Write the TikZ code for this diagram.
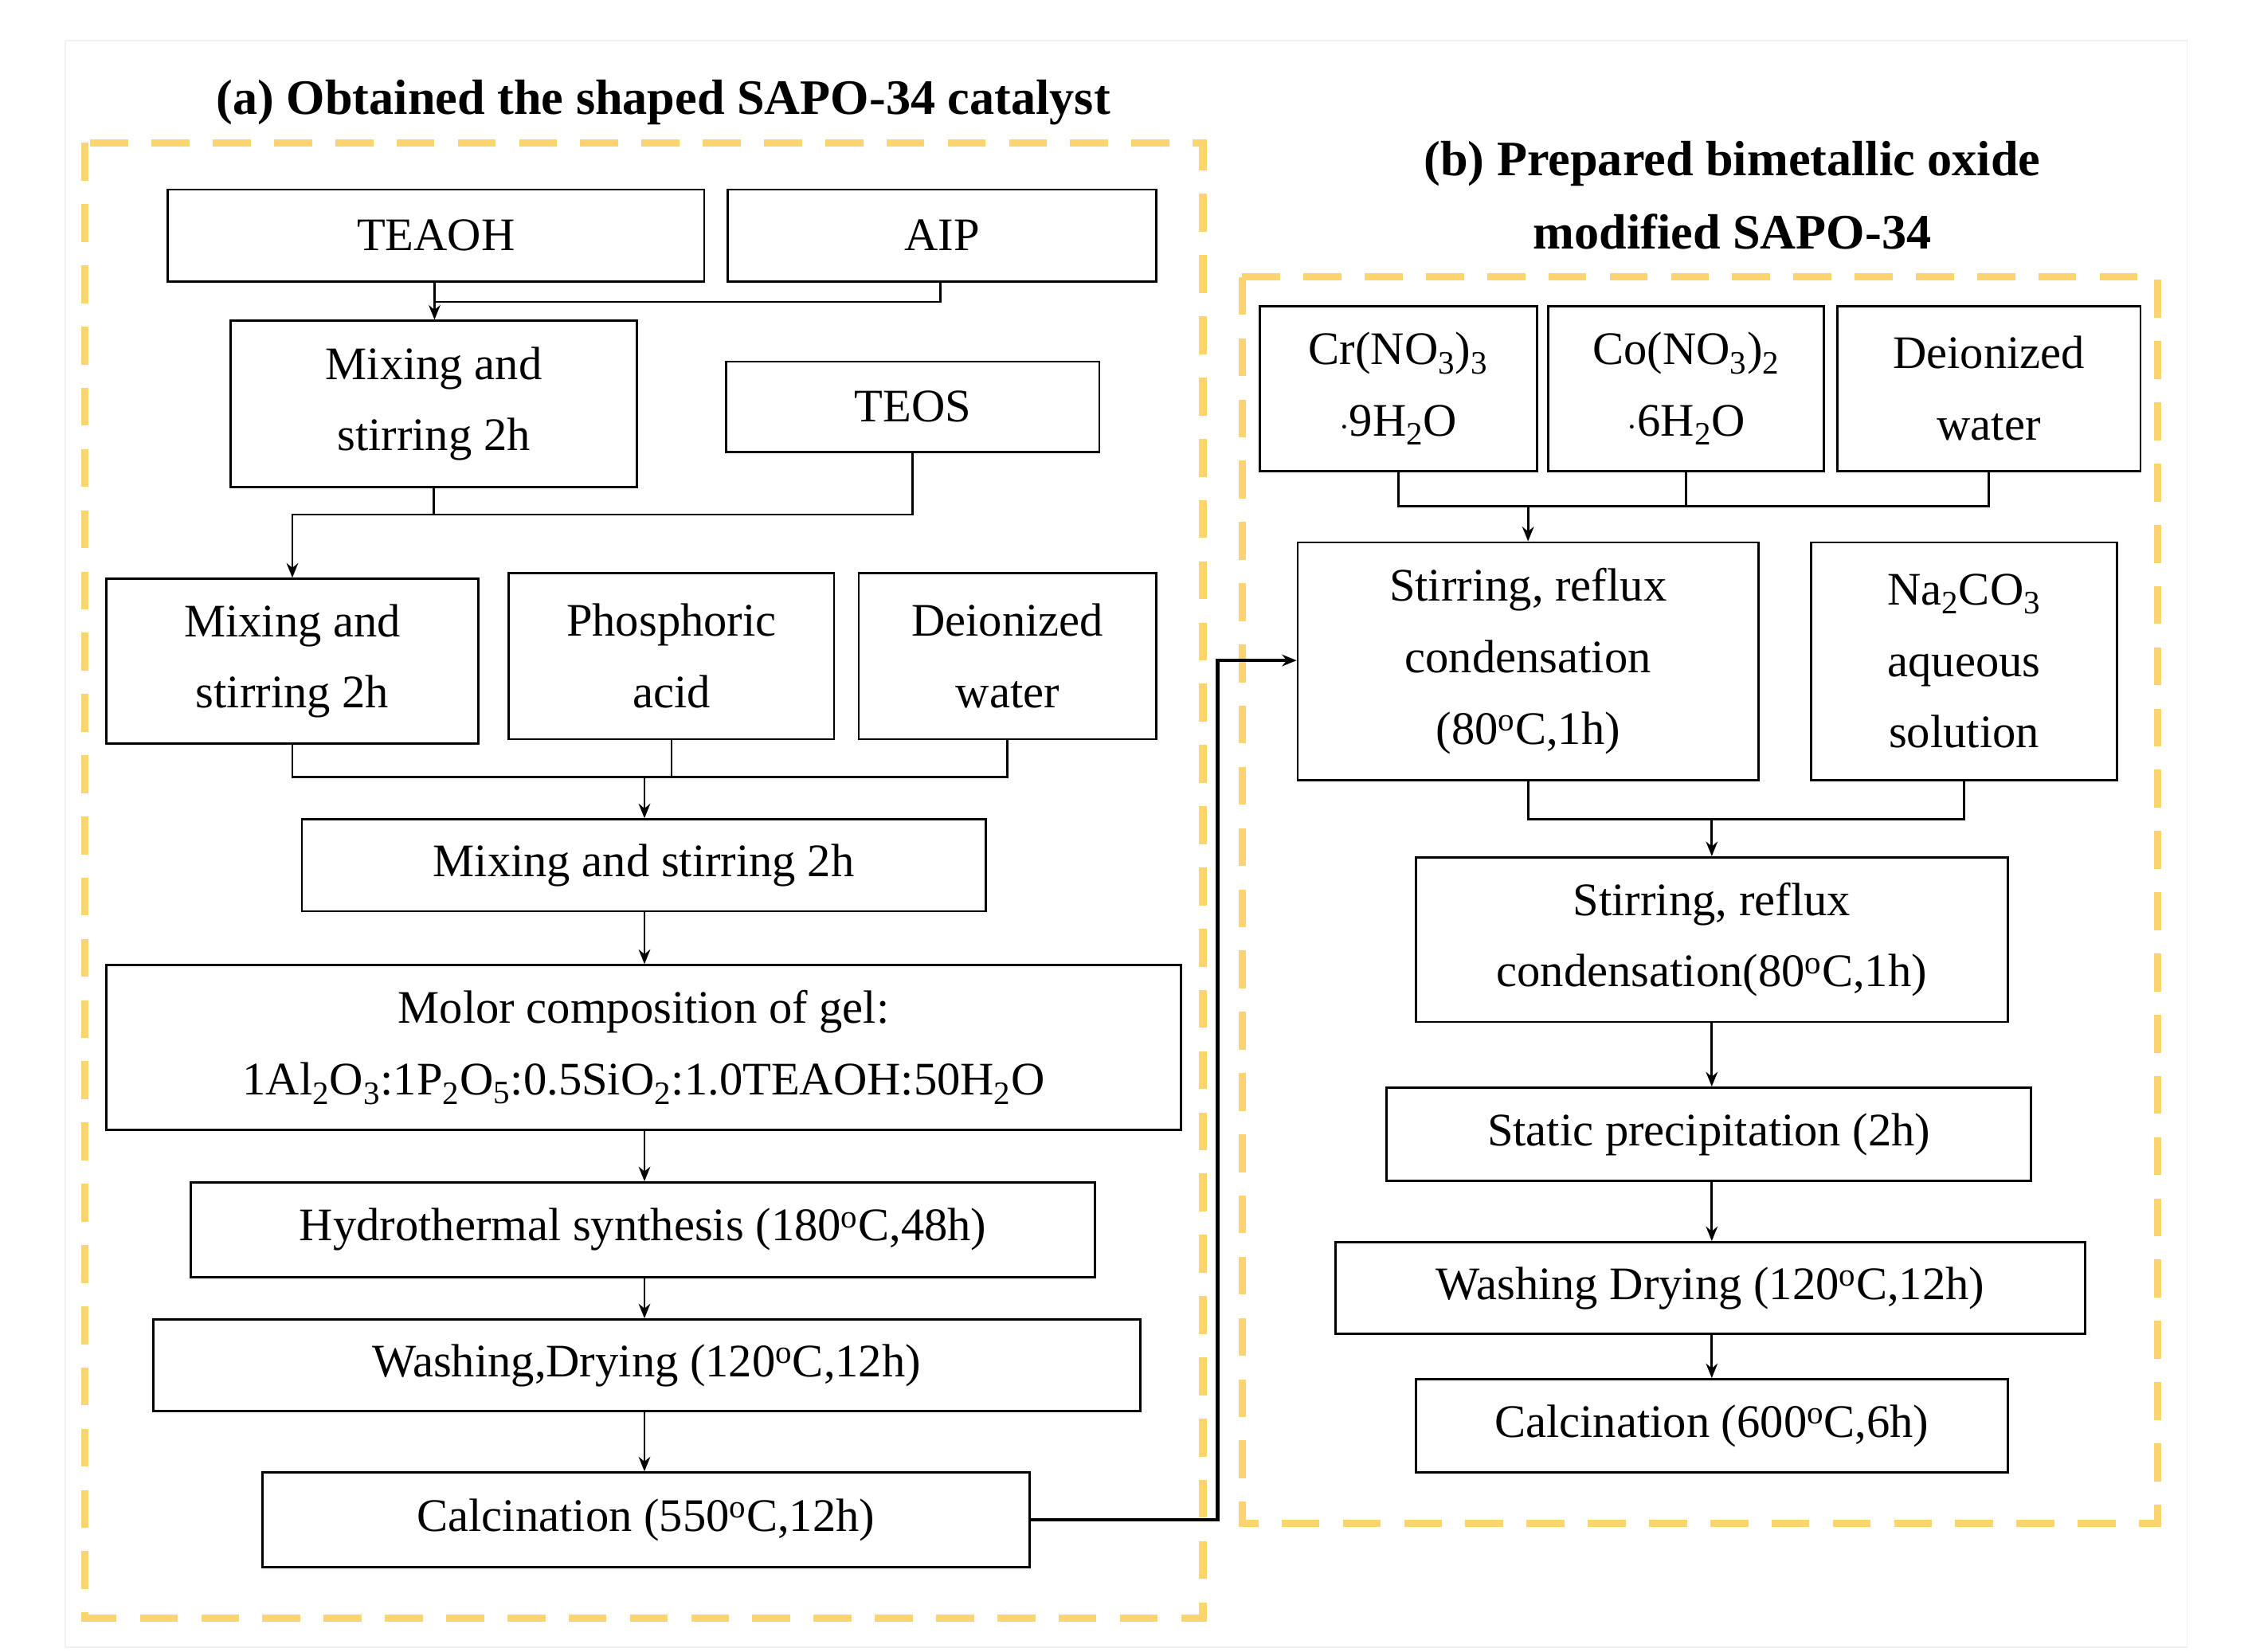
\documentclass[tikz,border=0pt]{standalone}
\usepackage{fontspec}
\setmainfont{Liberation Serif}
\usetikzlibrary{arrows.meta}
\definecolor{dy}{RGB}{250,212,110}
\newcommand{\bx}[6]{%
 \pgfmathsetmacro{\cxx}{(#2+#4)/2}\pgfmathsetmacro{\cyy}{(#3+#5)/2}%
 \pgfmathsetmacro{\ww}{#4-#2}\pgfmathsetmacro{\hh}{#5-#3}%
 \node[box,minimum width=\ww pt,minimum height=\hh pt] (#1) at (\cxx,\cyy) {#6};}
\newcommand{\sub}[1]{\textsubscript{#1}}
\newcommand{\dg}{\textsuperscript{o}C}
\begin{document}
\begin{tikzpicture}[x=1pt,y=-1pt,
 box/.style={draw,line width=1.5pt,inner sep=0pt,align=center,font=\fontsize{32}{49}\selectfont},
 ln/.style={line width=1.5pt},
 ar/.style={line width=1.5pt,-{Stealth[length=10pt,width=8pt]}},
 dsh/.style={draw=dy,line width=5pt,dash pattern=on 26pt off 16pt},
 ttl/.style={font=\fontsize{34}{50}\selectfont\bfseries,align=center}]
\useasboundingbox (0,0) rectangle (1550,1133);
\draw[black!6,line width=1pt] (45,28) rectangle (1500,1130);
\draw[dsh] (58,98) rectangle (825,1110);
\draw[dsh] (852,190) rectangle (1480,1045);
\node[ttl] (ta) at (455,70) {(a) Obtained the shaped SAPO-34 catalyst};
\node[ttl] (tb) at (1188,134) {(b) Prepared bimetallic oxide\\modified SAPO-34};
% left
\bx{teaoh}{115}{130}{483}{193}{TEAOH}
\bx{aip}{499}{130}{793}{193}{AIP}
\bx{m1}{158}{220}{437}{334}{Mixing and\\stirring 2h}
\bx{teos}{498}{248}{754}{310}{TEOS}
\bx{m2}{73}{397}{328}{510}{Mixing and\\stirring 2h}
\bx{pa}{349}{393}{572}{507}{Phosphoric\\acid}
\bx{dw}{589}{393}{793}{507}{Deionized\\water}
\bx{m3}{207}{562}{676}{625}{Mixing and stirring 2h}
\bx{mol}{73}{662}{810}{775}{Molor composition of gel:\\1Al\sub2O\sub3:1P\sub2O\sub5:0.5SiO\sub2:1.0TEAOH:50H\sub2O}
\bx{hy}{131}{811}{751}{876}{Hydrothermal synthesis (180\dg,48h)}
\bx{wa}{105}{905}{782}{968}{Washing,Drying (120\dg,12h)}
\bx{ca}{180}{1010}{706}{1075}{Calcination (550\dg,12h)}
% right
\bx{cr}{864}{210}{1054}{323}{Cr(NO\sub3)\sub3\\$\cdot$9H\sub2O}
\bx{co}{1062}{210}{1251}{323}{Co(NO\sub3)\sub2\\$\cdot$6H\sub2O}
\bx{dw2}{1260}{210}{1468}{323}{Deionized\\water}
\bx{s1}{890}{372}{1206}{535}{Stirring, reflux\\condensation\\(80\dg,1h)}
\bx{na}{1242}{372}{1452}{535}{Na\sub2CO\sub3\\aqueous\\solution}
\bx{s2}{971}{588}{1377}{701}{Stirring, reflux\\condensation(80\dg,1h)}
\bx{st}{951}{746}{1393}{810}{Static precipitation (2h)}
\bx{w2}{916}{852}{1430}{915}{Washing Drying (120\dg,12h)}
\bx{c2}{971}{946}{1377}{1010}{Calcination (600\dg,6h)}
% left connectors
\draw[ln] (298,193) |- (645,207) -- (aip.south -| 645,0);
\draw[ar] (298,207) -- (m1.north -| 298,0);
\draw[ln] (m1.south) |- (626,353) -- (teos.south -| 626,0);
\draw[ar] (298,353) -| (m2.north);
\draw[ln] (m2.south) |- (dw.south |- 0,533) -- (dw.south);
\draw[ln] (pa.south) -- (pa.south |- 0,533);
\draw[ar] (442,533) -- (m3.north -| 442,0);
\draw[ar] (m3.south -| 442,0) -- (mol.north -| 442,0);
\draw[ar] (mol.south -| 442,0) -- (hy.north -| 442,0);
\draw[ar] (hy.south -| 442,0) -- (wa.north -| 442,0);
\draw[ar] (wa.south -| 442,0) -- (ca.north -| 442,0);
\draw[ar,line width=2.5pt] (ca.east) -| (835,453) -- (s1.west |- 0,453);
% right connectors
\draw[ln] (cr.south) |- (dw2.south |- 0,347) -- (dw2.south);
\draw[ln] (co.south) -- (co.south |- 0,347);
\draw[ar] (1048,347) -- (s1.north -| 1048,0);
\draw[ln] (s1.south) |- (na.south |- 0,562) -- (na.south);
\draw[ar] (1174,562) -- (s2.north -| 1174,0);
\draw[ar] (s2.south -| 1174,0) -- (st.north -| 1174,0);
\draw[ar] (st.south -| 1174,0) -- (w2.north -| 1174,0);
\draw[ar] (w2.south -| 1174,0) -- (c2.north -| 1174,0);
\end{tikzpicture}
\end{document}
